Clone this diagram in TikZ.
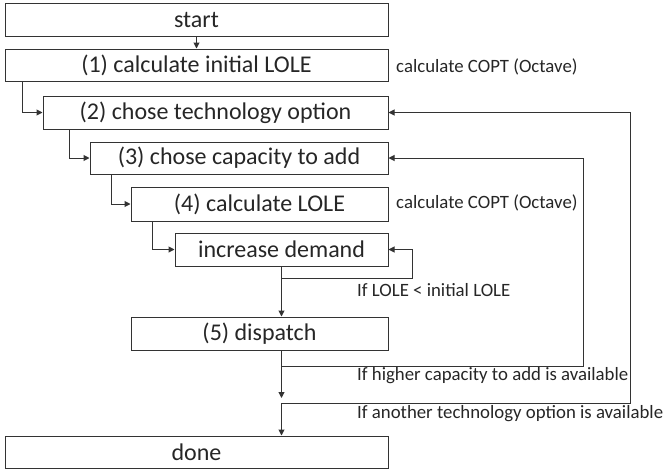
\documentclass[tikz,border=0pt]{standalone}
\usepackage{fontspec}
\setmainfont{Carlito}
\usetikzlibrary{arrows.meta,calc}
\definecolor{ln}{HTML}{333333}
\tikzset{
  box/.style={draw=ln, line width=1pt, rectangle, inner sep=0pt, font=\fontsize{24}{28}\selectfont, text=black!85},
  lbl/.style={anchor=west, inner sep=0pt, font=\fontsize{18.8}{22}\selectfont, text=black!85},
  conn/.style={draw=ln, line width=1pt, -{Triangle[length=6pt,width=6pt]}},
}
\begin{document}
\begin{tikzpicture}[x=1pt,y=-1pt]
\useasboundingbox (0,0) rectangle (665,472);
\node[box, minimum width=383pt, minimum height=33pt] (start) at (196.5,20) {start};
\node[box, minimum width=383pt, minimum height=32pt] (n1) at (196.5,65) {(1) calculate initial LOLE};
\node[box, minimum width=345pt, minimum height=33pt] (n2) at (215.5,112.5) {(2) chose technology option};
\node[box, minimum width=298pt, minimum height=32pt] (n3) at (239,158) {(3) chose capacity to add};
\node[box, minimum width=257pt, minimum height=34pt] (n4) at (259.5,204) {(4) calculate LOLE};
\node[box, minimum width=213pt, minimum height=33pt] (n5) at (281.5,249.5) {increase demand};
\node[box, minimum width=257pt, minimum height=33pt] (n6) at (259.5,333.5) {(5) dispatch};
\node[box, minimum width=383pt, minimum height=32pt] (done) at (196.5,452) {done};

\node[lbl] (c1) at (396,67) {calculate COPT (Octave)};
\node[lbl] (c2) at (396,203) {calculate COPT (Octave)};
\node[lbl] (l1) at (357,290) {If LOLE < initial LOLE};
\node[lbl] (l2) at (357,376) {If higher capacity to add is available};
\node[lbl] (l3) at (357,414) {If another technology option is available};

\coordinate (s1) at ($(n1.south west)+(18,0)$);
\coordinate (s2) at ($(n2.south west)+(27,0)$);
\coordinate (s3) at ($(n3.south west)+(22,0)$);
\coordinate (s4) at ($(n4.south west)+(22,0)$);
\coordinate (j0) at (281.5,278);
\coordinate (j1) at (281.5,366);
\coordinate (j2) at (281.5,403);
\coordinate (j2a) at (281.5,398);

\draw[conn] (start.south) -- (n1.north);
\draw[conn] (s1) |- (n2.west);
\draw[conn] (s2) |- (n3.west);
\draw[conn] (s3) |- (n4.west);
\draw[conn] (s4) |- (n5.west);
\draw[conn] (n5.south) -- (n5.south |- n6.north);
\draw[conn] (j0) -- (412,278) |- (n5.east);
\draw[conn] (n5.south |- n6.south) -- (j2a);
\draw[conn] (j2) -- (j2 |- done.north);
\draw[conn] (j1) -- (583,366) |- (n3.east);
\draw[conn] (j2) -- (630,403) |- (n2.east);
\end{tikzpicture}
\end{document}
